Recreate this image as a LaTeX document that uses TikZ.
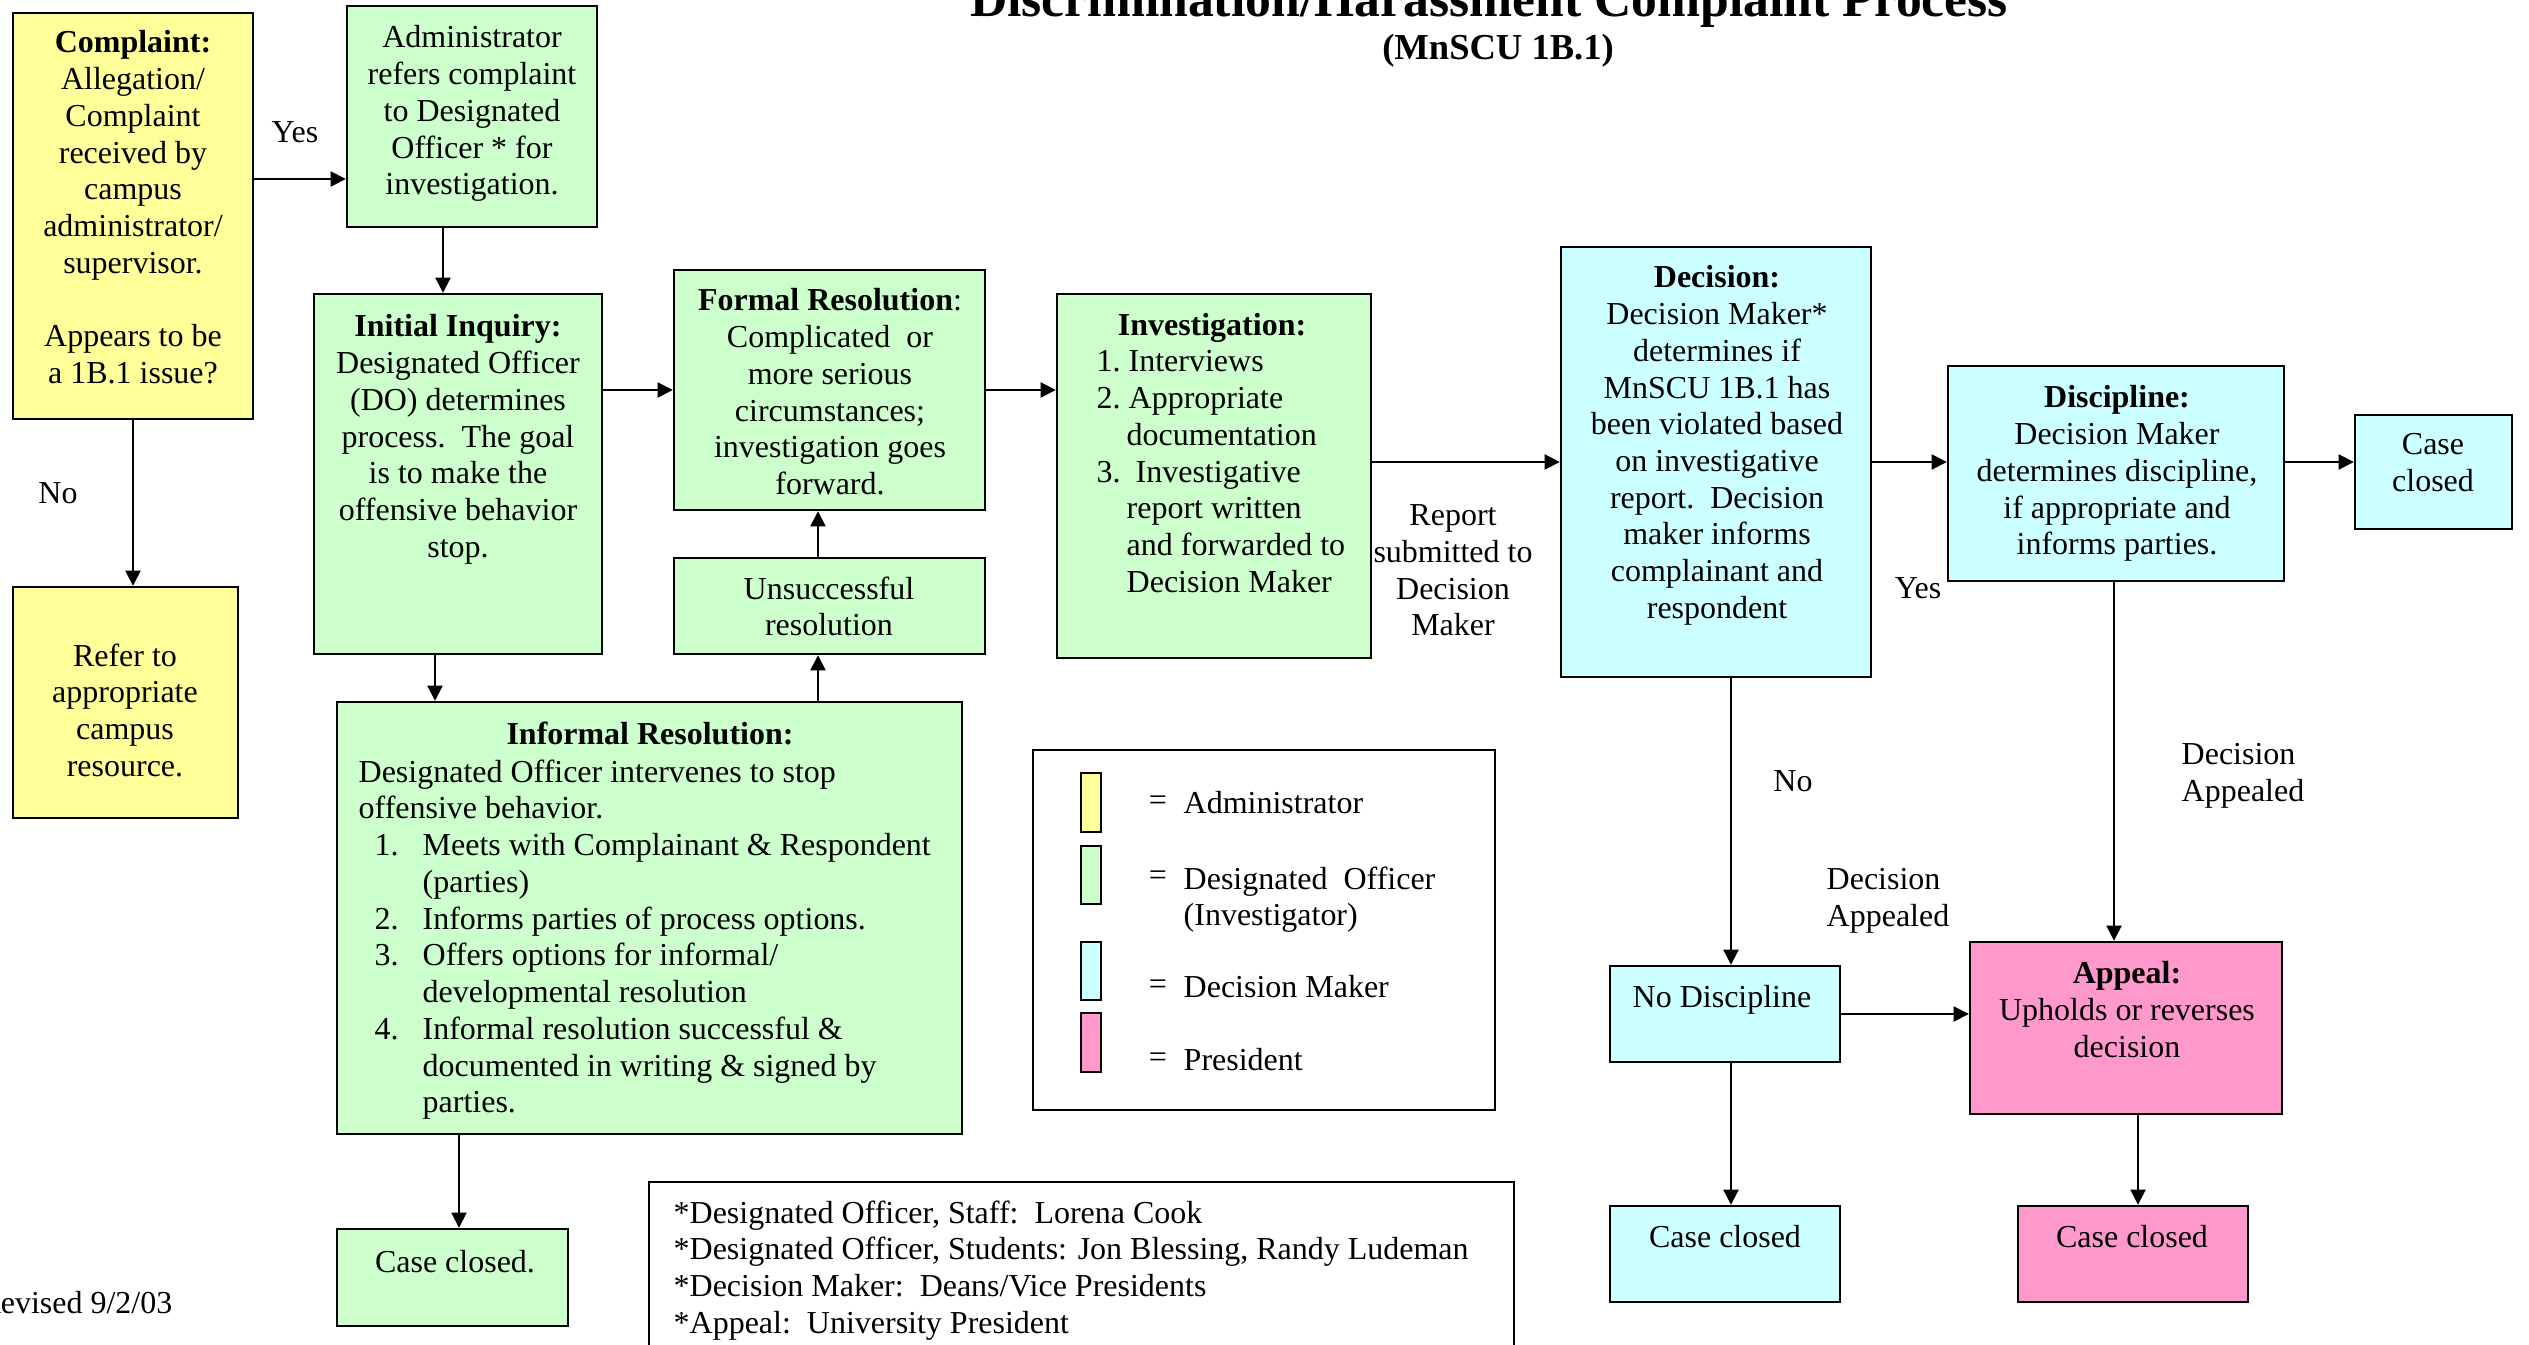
\documentclass[tikz,border=0pt]{standalone}
\usepackage{fontspec}
\setmainfont{Liberation Serif}
\usetikzlibrary{arrows.meta,fit}
\definecolor{ylw}{HTML}{FFFF99}
\definecolor{grn}{HTML}{CCFFCC}
\definecolor{cyn}{HTML}{CCFFFF}
\definecolor{pnk}{HTML}{FF99CC}
\begin{document}
\begin{tikzpicture}[x=0.1mm,y=-0.1mm,
  every node/.style={font=\fontsize{9.1}{10.45}\selectfont, inner sep=0pt},
  bx/.style={draw, line width=0.7pt, inner sep=0pt},
  txt/.style={align=center, anchor=north},
  lbl/.style={align=left},
  arr/.style={line width=0.5pt, -{Triangle[length=4.3pt,width=4.3pt]}}]
\useasboundingbox (0,0) rectangle (2529,1345);
\fill[white] (0,0) rectangle (2529,1345);

% title
\node[font=\fontsize{14.7}{17}\selectfont\bfseries, anchor=base] (title) at (1489,17) {Discrimination/Harassment Complaint Process};
\node[font=\fontsize{10.4}{12}\selectfont\bfseries, anchor=base] (subtitle) at (1498,60) {(MnSCU 1B.1)};

% boxes
\node[bx, fill=ylw, fit={(13,13)(253,419)}] (complaint) {};
\node[bx, fill=grn, fit={(347,6)(597,227)}] (admin) {};
\node[bx, fill=grn, fit={(314,294)(602,654)}] (initial) {};
\node[bx, fill=grn, fit={(674,270)(985,510)}] (formal) {};
\node[bx, fill=grn, fit={(674,558)(985,654)}] (unsucc) {};
\node[bx, fill=grn, fit={(1057,294)(1371,658)}] (invest) {};
\node[bx, fill=cyn, fit={(1561,247)(1871,677)}] (decision) {};
\node[bx, fill=cyn, fit={(1948,366)(2284,581)}] (discipline) {};
\node[bx, fill=cyn, fit={(2355,415)(2512,529)}] (caseA) {};
\node[bx, fill=ylw, fit={(13,587)(238,818)}] (refer) {};
\node[bx, fill=grn, fit={(337,702)(962,1134)}] (informal) {};
\node[bx, fill=grn, fit={(337,1229)(568,1326)}] (caseG) {};
\node[bx, fill=cyn, fit={(1610,966)(1840,1062)}] (nodisc) {};
\node[bx, fill=cyn, fit={(1610,1206)(1840,1302)}] (caseC) {};
\node[bx, fill=pnk, fit={(1970,942)(2282,1114)}] (appeal) {};
\node[bx, fill=pnk, fit={(2018,1206)(2248,1302)}] (caseP) {};

% box texts
\node[txt] (complaint-t) at (133,30) {\textbf{Complaint:}\\Allegation/\\Complaint\\received by\\campus\\administrator/\\supervisor.\\[10.45pt]Appears to be\\a 1B.1 issue?};
\node[txt] (admin-t) at (472,25) {Administrator\\refers complaint\\to Designated\\Officer * for\\investigation.};
\node[txt] (initial-t) at (458,314) {\textbf{Initial Inquiry:}\\Designated Officer\\(DO) determines\\process.\ \ The goal\\is to make the\\offensive behavior\\stop.};
\node[txt] (formal-t) at (830,288) {\textbf{Formal Resolution}:\\Complicated\ \ or\\more serious\\circumstances;\\investigation goes\\forward.};
\node[txt] (unsucc-t) at (829,576) {Unsuccessful\\resolution};
\node[txt] (invest-title) at (1212,313) {\textbf{Investigation:}};
\node[lbl, anchor=north west] (invest-t) at (1096,350) {\makebox[3.2mm][l]{1.}Interviews\\
\makebox[3.2mm][l]{2.}Appropriate\\
\hspace*{3.0mm}documentation\\
\makebox[3.9mm][l]{3.}Investigative\\
\hspace*{3.0mm}report written\\
\hspace*{3.0mm}and forwarded to\\
\hspace*{3.0mm}Decision Maker};
\node[txt] (decision-t) at (1717,265) {\textbf{Decision:}\\Decision Maker*\\determines if\\MnSCU 1B.1 has\\been violated based\\on investigative\\report.\ \ Decision\\maker informs\\complainant and\\respondent};
\node[txt] (discipline-t) at (2117,385) {\textbf{Discipline:}\\Decision Maker\\determines discipline,\\if appropriate and\\informs parties.};
\node[txt] (caseA-t) at (2433,433) {Case\\closed};
\node[txt] (refer-t) at (125,643) {Refer to\\appropriate\\campus\\resource.};
\node[txt] (informal-title) at (650,721) {\textbf{Informal Resolution:}};
\node[lbl, anchor=north west] (informal-t) at (358,759) {Designated Officer intervenes to stop\\
offensive behavior.\\
\hspace*{1.6mm}\makebox[4.8mm][l]{1.}Meets with Complainant \& Respondent\\
\hspace*{6.4mm}(parties)\\
\hspace*{1.6mm}\makebox[4.8mm][l]{2.}Informs parties of process options.\\
\hspace*{1.6mm}\makebox[4.8mm][l]{3.}Offers options for informal/\\
\hspace*{6.4mm}developmental resolution\\
\hspace*{1.6mm}\makebox[4.8mm][l]{4.}Informal resolution successful \&\\
\hspace*{6.4mm}documented in writing \& signed by\\
\hspace*{6.4mm}parties.};
\node[txt] (caseG-t) at (455,1250) {Case closed.};
\node[txt] (nodisc-t) at (1722,985) {No Discipline};
\node[txt] (caseC-t) at (1725,1225) {Case closed};
\node[txt] (caseP-t) at (2132,1225) {Case closed};
\node[txt] (appeal-t) at (2127,961) {\textbf{Appeal:}\\Upholds or reverses\\decision};

% edge labels
\node (yesA) at (295,132) {Yes};
\node (noA) at (58,493) {No};
\node (noB) at (1793,781) {No};
\node (yesB) at (1918,588) {Yes};
\node[txt] (report) at (1453,504) {Report\\submitted to\\Decision\\Maker};
\node[lbl, anchor=north west] (appA) at (1826,868) {Decision\\Appealed};
\node[lbl, anchor=north west] (appB) at (2181,743) {Decision\\Appealed};

% connectors
\draw[arr] (complaint.east |- 0,179) -- (admin.west |- 0,179);
\draw[arr] (443,0 |- admin.south) -- (443,0 |- initial.north);
\draw[arr] (initial.east |- 0,390) -- (formal.west |- 0,390);
\draw[arr] (formal.east |- 0,390) -- (invest.west |- 0,390);
\draw[arr] (invest.east |- 0,462) -- (decision.west |- 0,462);
\draw[arr] (decision.east |- 0,462) -- (discipline.west |- 0,462);
\draw[arr] (discipline.east |- 0,462) -- (caseA.west |- 0,462);
\draw[arr] (133,0 |- complaint.south) -- (133,0 |- refer.north);
\draw[arr] (435,0 |- initial.south) -- (435,0 |- informal.north);
\draw[arr] (818,0 |- informal.north) -- (818,0 |- unsucc.south);
\draw[arr] (818,0 |- unsucc.north) -- (818,0 |- formal.south);
\draw[arr] (459,0 |- informal.south) -- (459,0 |- caseG.north);
\draw[arr] (1731,0 |- decision.south) -- (1731,0 |- nodisc.north);
\draw[arr] (2114,0 |- discipline.south) -- (2114,0 |- appeal.north);
\draw[arr] (nodisc.east |- 0,1014) -- (appeal.west |- 0,1014);
\draw[arr] (1731,0 |- nodisc.south) -- (1731,0 |- caseC.north);
\draw[arr] (2138,0 |- appeal.south) -- (2138,0 |- caseP.north);

% legend
\node[bx, line width=0.6pt, fit={(1033,750)(1495,1110)}] (legend) {};
\node[bx, fill=ylw, fit={(1081,773)(1101,832)}] (swY) {};
\node[bx, fill=grn, fit={(1081,846)(1101,904)}] (swG) {};
\node[bx, fill=cyn, fit={(1081,942)(1101,1000)}] (swC) {};
\node[bx, fill=pnk, fit={(1081,1013)(1101,1072)}] (swP) {};
\node (eqY) at (1158,803) {=};
\node (eqG) at (1158,878) {=};
\node (eqC) at (1158,987) {=};
\node (eqP) at (1158,1060) {=};
\node[anchor=west] (lgY) at (1183,803) {Administrator};
\node[lbl, anchor=north west] (lgG) at (1183,866) {Designated\ \ Officer\\(Investigator)};
\node[anchor=west] (lgC) at (1183,987) {Decision Maker};
\node[anchor=west] (lgP) at (1183,1060) {President};

% footnote
\node[bx, line width=0.6pt, fit={(649,1182)(1514,1390)}] (foot) {};
\node[lbl, anchor=north west] (foot-t) at (673,1200) {*Designated Officer, Staff:\ \ Lorena Cook\\
*Designated Officer, Students: Jon Blessing, Randy Ludeman\\
*Decision Maker:\ \ Deans/Vice Presidents\\
*Appeal:\ \ University President};

\node[anchor=base east] (revised) at (173,1313) {Revised 9/2/03};
\end{tikzpicture}
\end{document}
